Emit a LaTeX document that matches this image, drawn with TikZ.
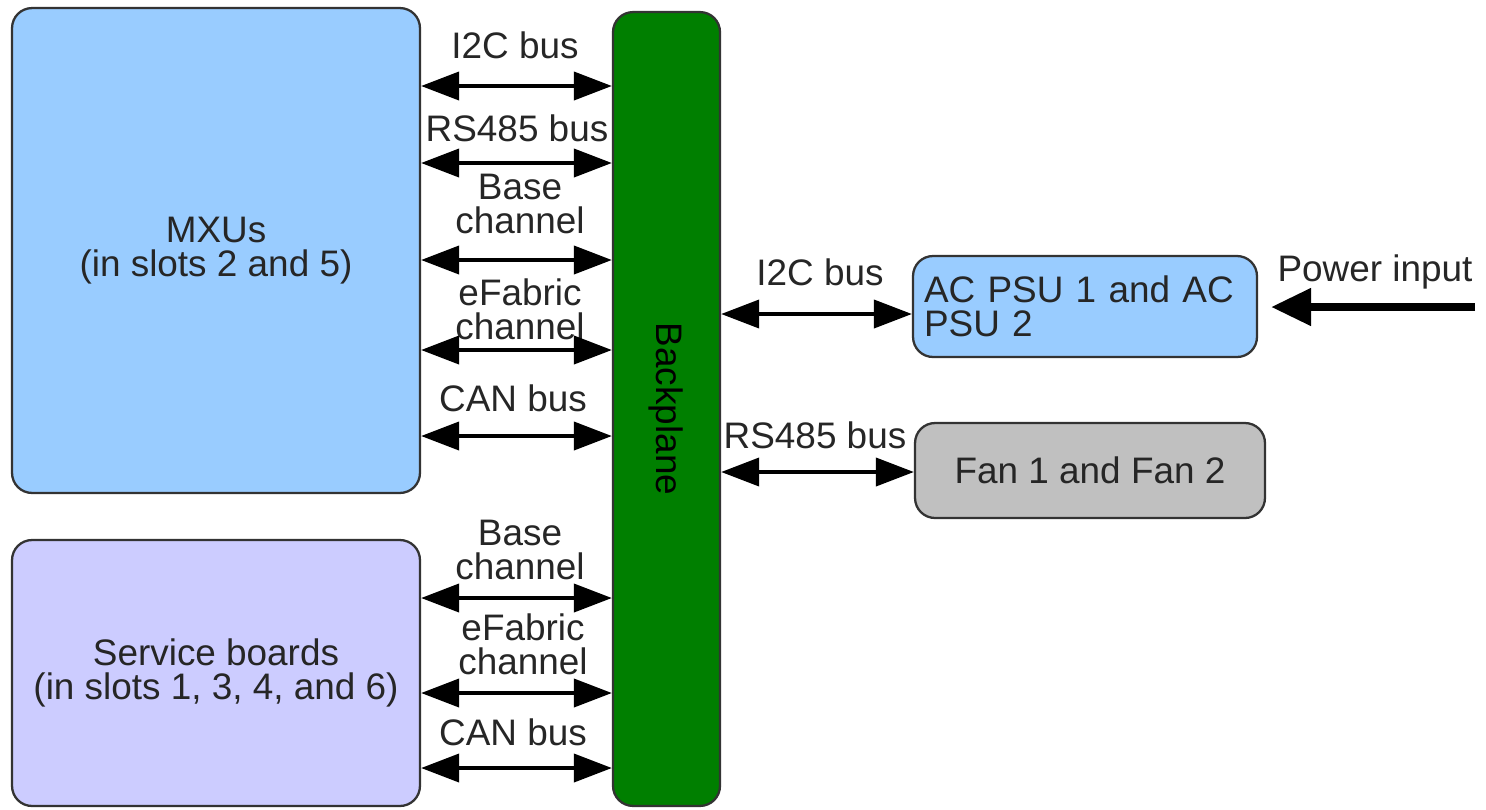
\documentclass[tikz,border=0pt]{standalone}
\usepackage{fontspec}
\setmainfont{Liberation Sans}
\usetikzlibrary{arrows.meta}

\definecolor{mxublue}{HTML}{99CCFF}
\definecolor{svclilac}{HTML}{CCCCFF}
\definecolor{bpgreen}{HTML}{007F00}
\definecolor{fangray}{HTML}{C0C0C0}
\definecolor{edgegray}{HTML}{333333}

\tikzset{
    board/.style={draw=edgegray, line width=1.3pt, rounded corners=0.4cm},
    lbl/.style={font=\fontsize{21}{19.5}\selectfont, align=center, text=black!85, inner sep=0pt},
    bus/.style={line width=2.2pt, {Triangle[length=0.76cm,width=0.56cm]}-{Triangle[length=0.76cm,width=0.56cm]}},
    feed/.style={line width=4.5pt, -{Triangle[length=0.8cm,width=0.72cm]}},
}

\begin{document}
\begin{tikzpicture}[x=0.02cm, y=-0.02cm]
\useasboundingbox (0,0) rectangle (1486,809);

%%   kw   (name)   (x, y)   {text}
    \node[board, fill=mxublue, minimum width=8.16cm, minimum height=9.7cm, lbl] (mxu) at (216, 250.5) {MXUs\\(in slots 2 and 5)};
    \node[board, fill=svclilac, minimum width=8.16cm, minimum height=5.32cm, lbl] (svc) at (216, 673) {Service boards\\(in slots 1, 3, 4, and 6)};
    \node[board, fill=bpgreen, draw=black!80, minimum width=15.88cm, minimum height=2.14cm, rotate=-90, lbl, text=black] (bp) at (666.5, 409) {Backplane};
    \node[board, fill=mxublue, minimum width=6.88cm, minimum height=2.02cm, lbl, text width=6.44cm, inner xsep=0.22cm, align=left] (psu) at (1085, 306.5) {AC PSU 1 and AC\\PSU 2};
    \node[board, fill=fangray, minimum width=7cm, minimum height=1.9cm, lbl] (fan) at (1090, 470.5) {Fan 1 and Fan 2};

%% bus labels
    \node[lbl] (li2c)   at (515, 45)  {I2C bus};
    \node[lbl] (lrs)    at (517, 128) {RS485 bus};
    \node[lbl] (lbase)  at (520, 204) {Base\\channel};
    \node[lbl] (lfab)   at (520, 309) {eFabric\\channel};
    \node[lbl] (lcan)   at (513, 398) {CAN bus};
    \node[lbl] (lbase2) at (520, 550) {Base\\channel};
    \node[lbl] (lfab2)  at (523, 644) {eFabric\\channel};
    \node[lbl] (lcan2)  at (513, 732) {CAN bus};
    \node[lbl] (ri2c)   at (820, 272) {I2C bus};
    \node[lbl] (rrs)    at (815, 435) {RS485 bus};
    \node[lbl] (lpwr)   at (1375, 272) {Power input};

%% arrow heights
    \coordinate (m1) at (0, 86);
    \coordinate (m2) at (0, 163);
    \coordinate (m3) at (0, 260);
    \coordinate (m4) at (0, 350);
    \coordinate (m5) at (0, 436);
    \coordinate (s1) at (0, 598);
    \coordinate (s2) at (0, 693);
    \coordinate (s3) at (0, 768);
    \coordinate (r1) at (0, 314);
    \coordinate (r2) at (0, 472);
    \coordinate (pwr) at (1475, 307);

    % bp is turned, so its south side faces the boards on the left
    \draw[bus] (mxu.east |- m1) -- (bp.south |- m1);
    \draw[bus] (mxu.east |- m2) -- (bp.south |- m2);
    \draw[bus] (mxu.east |- m3) -- (bp.south |- m3);
    \draw[bus] (mxu.east |- m4) -- (bp.south |- m4);
    \draw[bus] (mxu.east |- m5) -- (bp.south |- m5);
    \draw[bus] (svc.east |- s1) -- (bp.south |- s1);
    \draw[bus] (svc.east |- s2) -- (bp.south |- s2);
    \draw[bus] (svc.east |- s3) -- (bp.south |- s3);
    \draw[bus] (bp.north |- r1) -- (psu.west |- r1);
    \draw[bus] (bp.north |- r2) -- (fan.west |- r2);
    \draw[feed, shorten >=0.26cm] (pwr) -- (psu.east |- pwr);
\end{tikzpicture}
\end{document}
